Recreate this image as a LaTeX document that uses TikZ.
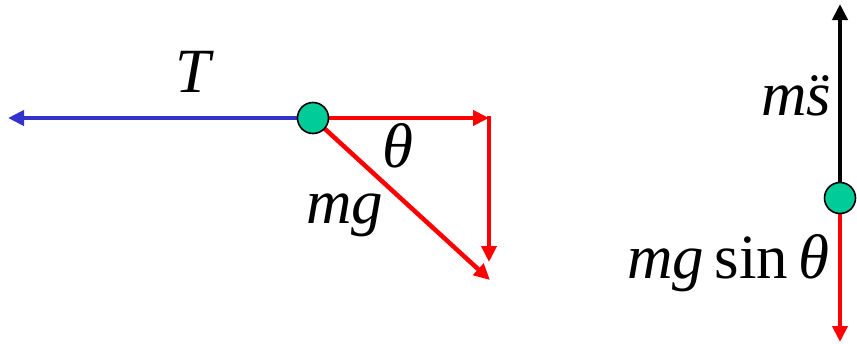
\documentclass[tikz,border=0pt]{standalone}
\usepackage{fontspec}
\setmainfont{Liberation Serif}
\usetikzlibrary{arrows.meta}
\definecolor{ballgreen}{RGB}{0,204,153}
\definecolor{tblue}{RGB}{51,51,204}
\tikzset{
  ball/.style={circle,draw=black,line width=1.6pt,fill=ballgreen,minimum size=31pt,inner sep=0pt},
  vec/.style={line width=4.5pt,-{Triangle[length=16pt,width=15pt]}},
  lbl/.style={font=\fontsize{63}{70}\selectfont,inner sep=0pt}
}
\begin{document}
\begin{tikzpicture}[x=1pt,y=-1pt]
\useasboundingbox (0,0) rectangle (857,343);
% left figure
\coordinate (c1) at (313,118);
\coordinate (tT) at (8,118);
\coordinate (hT) at (489,118);
\coordinate (vS) at (489,116);
\coordinate (vT) at (489,262);
\coordinate (dT) at (490,280);
\draw[vec,tblue] (c1) -- (tT);
\draw[vec,red] (c1) -- (hT);
\draw[vec,red] (vS) -- (vT);
\draw[vec,red] (c1) -- (dT);
\node[ball] (b1) at (c1) {};
\node[lbl] (T) at (195,72) {\textit{T}};
\node[lbl] (th) at (398,146) {\textit{θ}};
\node[lbl,anchor=base west] (mg) at (306,223) {\textit{mg}};
% right figure
\coordinate (c2) at (840,198);
\coordinate (uT) at (840,4);
\coordinate (dnT) at (840,342);
\draw[vec,black,line width=4pt] (c2) -- (uT);
\draw[vec,red] (c2) -- (dnT);
\node[ball] (b2) at (c2) {};
\node[lbl,anchor=base west] (ms) at (761,115) {\textit{m\"{s}}};
\node[lbl,anchor=base east] (mgs) at (830,278) {\textit{mg}\,sin\,\textit{θ}};
\end{tikzpicture}
\end{document}
